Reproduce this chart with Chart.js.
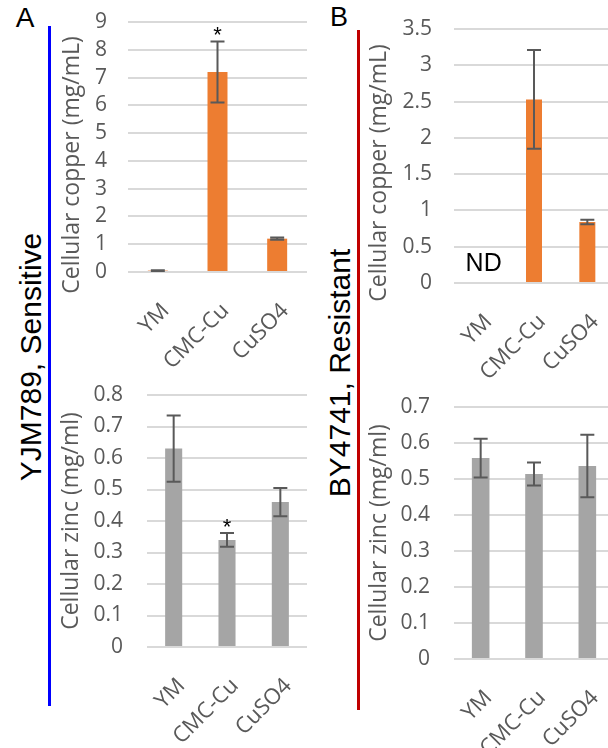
<!DOCTYPE html>
<html>
<head>
<meta charset="utf-8">
<script src="https://cdn.jsdelivr.net/npm/chart.js@4.4.1/dist/chart.umd.min.js"></script>
<style>
  html, body { margin: 0; padding: 0; background: #fff; }
  body { width: 608px; height: 748px; position: relative; overflow: hidden; }
  canvas { position: absolute; }
  .tag { position: absolute; font-family: "Liberation Sans", Arial, sans-serif; color: #000; line-height: 1; white-space: nowrap; transform: translate(-50%, -50%); }
  .strain { font-size: 30px; transform: translate(-50%, -50%) rotate(-90deg); }
  .ytitle { position: absolute; font-family: "Open Sans", sans-serif; font-size: 23px; color: #595959; line-height: 1; white-space: nowrap; transform: translate(-50%, -50%) rotate(-90deg); }
  .rule { position: absolute; width: 3px; }
</style>
</head>
<body>
<canvas id="idCanv_cuSens" width="252" height="372" style="left:55px;top:0px"></canvas>
<canvas id="idCanv_znSens" width="252" height="376" style="left:55px;top:372px"></canvas>
<canvas id="idCanv_cuRes" width="252" height="380" style="left:362px;top:0px"></canvas>
<canvas id="idCanv_znRes" width="252" height="368" style="left:362px;top:380px"></canvas>

<div class="rule" style="left:48px;top:26px;height:680px;background:#0000ff"></div>
<div class="rule" style="left:357px;top:30px;height:680px;background:#c00000"></div>

<div class="tag" style="left:25px;top:18px;font-size:28px">A</div>
<div class="tag" style="left:339px;top:17px;font-size:27px">B</div>
<div class="tag strain" style="left:31px;top:357px">YJM789, Sensitive</div>
<div class="tag strain" style="left:340px;top:373px">BY4741, Resistant</div>

<div class="ytitle" style="left:70px;top:165px">Cellular copper (mg/mL)</div>
<div class="ytitle" style="left:69px;top:521px">Cellular zinc (mg/ml)</div>
<div class="ytitle" style="left:377px;top:173px">Cellular copper (mg/mL)</div>
<div class="ytitle" style="left:377px;top:533px">Cellular zinc (mg/ml)</div>

<script>
const categories = ["YM", "CMC-Cu", "CuSO4"];

// A: YJM789 (sensitive)
const copperSensitive = [0.05, 7.2, 1.2];
const copperSensitiveErr = [0.01, 1.1, 0.04];
const copperSensitiveMarks = ["", "*", ""];
const copperSensitiveTicks = [0, 1, 2, 3, 4, 5, 6, 7, 8, 9];

const zincSensitive = [0.63, 0.34, 0.46];
const zincSensitiveErr = [0.105, 0.022, 0.045];
const zincSensitiveMarks = ["", "*", ""];
const zincSensitiveTicks = [0, 0.1, 0.2, 0.3, 0.4, 0.5, 0.6, 0.7, 0.8];

// B: BY4741 (resistant)
const copperResistant = [0, 2.53, 0.84];
const copperResistantErr = [0, 0.68, 0.03];
const copperResistantNotes = ["ND", "", ""];
const copperResistantTicks = [0, 0.5, 1, 1.5, 2, 2.5, 3, 3.5];

const zincResistant = [0.558, 0.514, 0.536];
const zincResistantErr = [0.054, 0.032, 0.087];
const zincResistantTicks = [0, 0.1, 0.2, 0.3, 0.4, 0.5, 0.6, 0.7];

const colOrange = "#ed7d31";
const colGrey = "#a5a5a5";
const colText = "#595959";

const errorBarPlugin = {
  id: "errorBars",
  afterDatasetsDraw(chart) {
    const ctx = chart.ctx;
    const yScale = chart.scales.y;
    const ds = chart.data.datasets[0];
    const meta = chart.getDatasetMeta(0);
    ctx.save();
    meta.data.forEach((bar, i) => {
      const value = ds.data[i];
      const err = ds.errors ? ds.errors[i] : 0;
      let top = yScale.getPixelForValue(value);
      if (err) {
        const hi = yScale.getPixelForValue(value + err);
        const lo = yScale.getPixelForValue(value - err);
        ctx.strokeStyle = colText;
        ctx.lineWidth = 2;
        ctx.beginPath();
        ctx.moveTo(bar.x, hi);
        ctx.lineTo(bar.x, lo);
        ctx.moveTo(bar.x - 7, hi);
        ctx.lineTo(bar.x + 7, hi);
        ctx.moveTo(bar.x - 7, lo);
        ctx.lineTo(bar.x + 7, lo);
        ctx.stroke();
        top = hi;
      }
      if (ds.marks && ds.marks[i]) {
        ctx.fillStyle = "#000";
        ctx.font = "22px 'Liberation Sans'";
        ctx.textAlign = "center";
        ctx.textBaseline = "alphabetic";
        ctx.fillText(ds.marks[i], bar.x, top + 1);
      }
      if (ds.notes && ds.notes[i]) {
        ctx.fillStyle = "#000";
        ctx.font = "25px 'Liberation Sans'";
        ctx.textAlign = "center";
        ctx.textBaseline = "middle";
        ctx.fillText(ds.notes[i], bar.x + 3, yScale.getPixelForValue(0) - 19);
      }
    });
    ctx.restore();
  },
};

function makePanel(id, spec) {
  const ticks = spec.ticks;
  return new Chart(document.getElementById(id), {
    type: "bar",
    data: {
      labels: categories,
      datasets: [
        {
          data: spec.values,
          errors: spec.errors,
          marks: spec.marks,
          notes: spec.notes,
          backgroundColor: spec.color,
          categoryPercentage: spec.barShare,
          barPercentage: 1,
        },
      ],
    },
    options: {
      responsive: false,
      animation: false,
      devicePixelRatio: 1,
      layout: { padding: { top: spec.padTop, left: 0, right: 0, bottom: 0 } },
      plugins: {
        legend: { display: false },
        tooltip: { enabled: false },
      },
      scales: {
        x: {
          grid: { display: false, drawTicks: false },
          border: { display: false },
          ticks: {
            color: colText,
            font: { family: "Open Sans", size: 22 },
            minRotation: 45,
            maxRotation: 45,
            autoSkip: false,
            padding: 26,
            labelOffset: 8,
          },
          afterFit: (scale) => {
            scale.height = spec.xHeight;
            scale.paddingLeft = 0;
            scale.paddingRight = 0;
          },
        },
        y: {
          min: ticks[0],
          max: ticks[ticks.length - 1],
          grid: { color: "#d9d9d9", lineWidth: 2, drawTicks: false },
          border: { display: false },
          ticks: {
            stepSize: ticks[1] - ticks[0],
            autoSkip: false,
            padding: spec.yPad,
            color: colText,
            font: { family: "Open Sans", size: 21 },
            callback: (v) => String(+v.toFixed(2)),
          },
          afterFit: (scale) => {
            scale.width = spec.yWidth;
            scale.paddingTop = 0;
            scale.paddingBottom = 0;
          },
        },
      },
    },
    plugins: [errorBarPlugin],
  });
}

makePanel("idCanv_cuSens", {
  values: copperSensitive, errors: copperSensitiveErr, marks: copperSensitiveMarks, ticks: copperSensitiveTicks,
  color: colOrange, barShare: 0.335, padTop: 22, xHeight: 100, yWidth: 73, yPad: 21,
});
makePanel("idCanv_znSens", {
  values: zincSensitive, errors: zincSensitiveErr, marks: zincSensitiveMarks, ticks: zincSensitiveTicks,
  color: colGrey, barShare: 0.32, padTop: 23, xHeight: 101, yWidth: 92, yPad: 24,
});
makePanel("idCanv_cuRes", {
  values: copperResistant, errors: copperResistantErr, notes: copperResistantNotes, ticks: copperResistantTicks,
  color: colOrange, barShare: 0.3, padTop: 29, xHeight: 97, yWidth: 92, yPad: 22,
});
makePanel("idCanv_znRes", {
  values: zincResistant, errors: zincResistantErr, ticks: zincResistantTicks,
  color: colGrey, barShare: 0.33, padTop: 27, xHeight: 89, yWidth: 92, yPad: 24,
});
</script>
</body>
</html>
